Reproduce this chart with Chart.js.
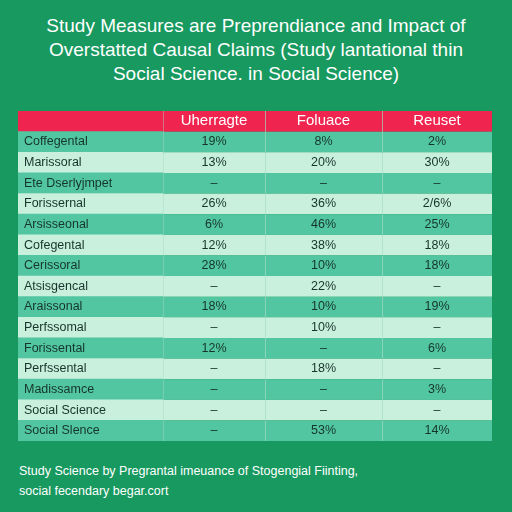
<!DOCTYPE html>
<html><head><meta charset="utf-8">
<script src="https://cdn.jsdelivr.net/npm/chart.js@4"></script>
<style>
body{margin:0;width:512px;height:512px;background:#17995f;font-family:"Liberation Sans",Arial,sans-serif;position:relative;overflow:hidden}
#t{position:absolute;top:14px;left:0;width:512px;text-align:center;color:#fff;font-size:19px;line-height:24px}
#f{position:absolute;top:461px;left:19px;color:#fff;font-size:12.5px;line-height:20px}
#w{position:absolute;left:18px;top:111px;width:474px;height:330px}
</style></head><body>
<div id="t">Study Measures are Preprendiance and Impact of<br>Overstatted Causal Claims (Study lantational thin<br>Social Science. in Social Science)</div>
<div id="w"><canvas id="c"></canvas></div>
<div id="f">Study Science by Pregrantal imeuance of Stogengial Fiinting,<br>social fecendary begar.cort</div>
<script>
const headers=["Uherragte","Foluace","Reuset"];
const rows=["Coffegental","Marissoral","Ete Dserlyjmpet","Forissernal","Arsisseonal","Cofegental","Cerissoral","Atsisgencal","Araissonal","Perfssomal","Forissental","Perfssental","Madissamce","Social Science","Social Slence"];
const col1=["19%","13%","–","26%","6%","12%","28%","–","18%","–","12%","–","–","–","–"];
const col2=["8%","20%","–","36%","46%","38%","10%","22%","10%","10%","–","18%","–","–","53%"];
const col3=["2%","30%","–","2/6%","25%","18%","18%","–","19%","–","6%","–","3%","–","14%"];
const edges=[0,145,247,364,474];
const cats=["H",...rows];
const cols=[null,col1,col2,col3];
function rowColor(i){return i===0?"#ef2550":(i%2===1?"#52c6a0":"#c9efdd");}
const datasets=[0,1,2,3].map(c=>({data:cats.map(()=>[edges[c],edges[c+1]]),backgroundColor:cats.map((_,i)=>rowColor(i)),borderColor:"rgba(230,250,240,0.7)",borderWidth:{left:c?1:0,right:0,top:0,bottom:0},borderSkipped:false,categoryPercentage:1,barPercentage:1}));
const textPlugin={id:"txt",afterDatasetsDraw(ch){const {ctx,scales:{x,y}}=ch;ctx.save();ctx.textBaseline="middle";
cats.forEach((cat,i)=>{const py=y.getPixelForValue(i);
for(let c=0;c<4;c++){let s;if(i===0)s=c?headers[c-1]:"";else s=c?cols[c][i-1]:rows[i-1];
ctx.fillStyle=i===0?"#fff":"#16352a";ctx.font=(i===0?"15px":"12.5px")+' "Liberation Sans",Arial';
if(c===0){ctx.textAlign="left";ctx.fillText(s,x.getPixelForValue(edges[0])+6,py);}else{ctx.textAlign="center";ctx.fillText(s,x.getPixelForValue((edges[c]+edges[c+1])/2),py);}}});ctx.restore();}};
new Chart(document.getElementById("c"),{type:"bar",data:{labels:cats,datasets},plugins:[textPlugin],
options:{indexAxis:"y",responsive:true,maintainAspectRatio:false,animation:false,layout:{padding:0},
plugins:{legend:{display:false},tooltip:{enabled:false}},
scales:{x:{type:"linear",min:0,max:474,display:false,stacked:false},y:{display:false,stacked:true}}}});
</script></body></html>
